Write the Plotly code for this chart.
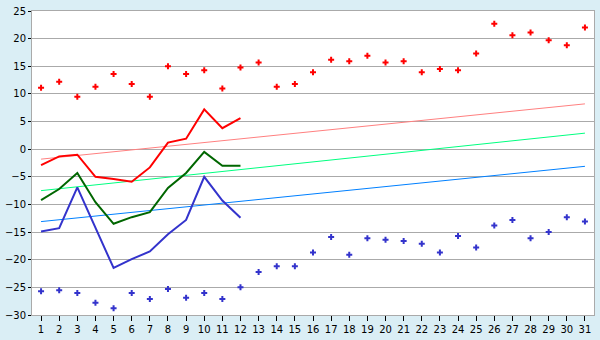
import plotly.graph_objects as go

days = list(range(1, 32))
max_pts = [11.1, 12.2, 9.5, 11.3, 13.6, 11.8, 9.5, 15.0, 13.6, 14.3,
           11.0, 14.8, 15.7, 11.3, 11.8, 13.9, 16.2, 15.9, 16.9, 15.7,
           15.9, 13.9, 14.5, 14.3, 17.3, 22.7, 20.6, 21.1, 19.7, 18.8, 22.0]
min_pts = [-25.7, -25.5, -26.0, -27.8, -28.8, -26.0, -27.1, -25.3, -26.9, -26.0,
           -27.1, -25.0, -22.2, -21.2, -21.2, -18.7, -15.9, -19.1, -16.1, -16.4,
           -16.6, -17.1, -18.7, -15.7, -17.8, -13.8, -12.8, -16.1, -15.0, -12.3, -13.1]
line_days = list(range(1, 13))
red_line = [-2.9, -1.3, -1.0, -5.0, -5.4, -5.9, -3.3, 1.2, 1.9, 7.2, 3.8, 5.6]
green_line = [-9.2, -7.2, -4.3, -9.6, -13.5, -12.3, -11.4, -7.0, -4.3, -0.5, -3.0, -3.0]
blue_line = [-14.9, -14.3, -6.9, -14.2, -21.5, -19.9, -18.5, -15.4, -12.8, -5.0, -9.3, -12.4]
trend_days = [1, 31]
red_trend = [-1.8, 8.2]
green_trend = [-7.5, 2.9]
blue_trend = [-13.1, -3.1]

fig = go.Figure()
fig.add_trace(go.Scatter(x=trend_days, y=red_trend, mode="lines",
                         line=dict(color="#ff8080", width=1)))
fig.add_trace(go.Scatter(x=trend_days, y=green_trend, mode="lines",
                         line=dict(color="#00ff80", width=1)))
fig.add_trace(go.Scatter(x=trend_days, y=blue_trend, mode="lines",
                         line=dict(color="#0080ff", width=1)))
fig.add_trace(go.Scatter(x=line_days, y=red_line, mode="lines",
                         line=dict(color="#ff0000", width=2)))
fig.add_trace(go.Scatter(x=line_days, y=green_line, mode="lines",
                         line=dict(color="#006600", width=2)))
fig.add_trace(go.Scatter(x=line_days, y=blue_line, mode="lines",
                         line=dict(color="#3333cc", width=2)))
fig.add_trace(go.Scatter(x=days, y=max_pts, mode="markers",
                         marker=dict(symbol="cross", size=5, color="#ff0000",
                                     line=dict(width=0))))
fig.add_trace(go.Scatter(x=days, y=min_pts, mode="markers",
                         marker=dict(symbol="cross", size=5, color="#3333cc",
                                     line=dict(width=0))))

fig.update_layout(
    width=600, height=340,
    margin=dict(l=26, r=5, t=5, b=20),
    paper_bgcolor="#daeef5",
    plot_bgcolor="#ffffff",
    showlegend=False,
    font=dict(family="DejaVu Sans", size=10, color="#000000"),
)
fig.update_xaxes(range=[0.5, 31.5], tickvals=days, ticks="outside", ticklen=5,
                 tickcolor="#000000", showgrid=False, showline=True,
                 linecolor="#aaaaaa", linewidth=1, mirror=True, zeroline=False)
fig.update_yaxes(range=[-30, 25], dtick=5, ticks="outside", ticklen=3,
                 tickcolor="#000000", showgrid=True, gridcolor="#aaaaaa",
                 gridwidth=1, showline=True, linecolor="#aaaaaa", linewidth=1,
                 mirror=True, zeroline=False)

fig.write_html("out.html")
